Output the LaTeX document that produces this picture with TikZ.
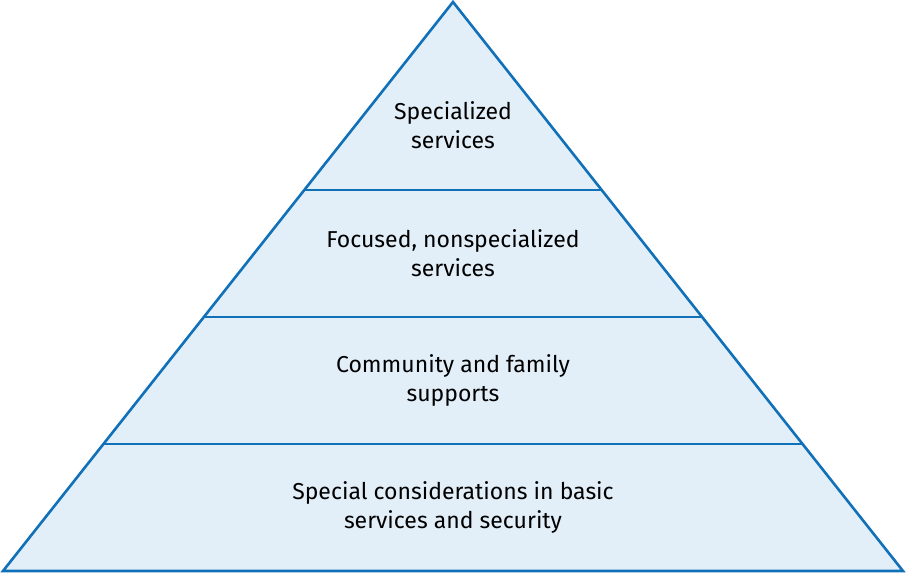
\documentclass[tikz,border=0pt]{standalone}
\usepackage{fontspec}
\setmainfont{Fira Sans}
\usepackage{tikz}
\usetikzlibrary{positioning}
\definecolor{pyrblue}{HTML}{1070B8}
\definecolor{pyrfill}{HTML}{E3EFF8}

\begin{document}
\begin{tikzpicture}[
	x=1pt, y=1pt,
	line width=2.6pt,
	font=\fontsize{23}{29}\selectfont
]
\tikzset{
    layertext/.style = {align=center, text=black, inner sep=0pt}
}
\useasboundingbox (0,0) rectangle (906,573);
% outline of the pyramid
\coordinate (apex) at (453,571);
\coordinate (bl) at (3,2);
\coordinate (br) at (903,2);
\filldraw[draw=pyrblue, fill=pyrfill] (bl) -- (apex) -- (br) -- cycle;
% dividing lines
\coordinate (l1a) at (304.3,383);
\coordinate (l1b) at (601.7,383);
\coordinate (l2a) at (203.9,256);
\coordinate (l2b) at (702.1,256);
\coordinate (l3a) at (103.4,129);
\coordinate (l3b) at (802.6,129);
\draw[pyrblue] (l1a) -- (l1b);
\draw[pyrblue] (l2a) -- (l2b);
\draw[pyrblue] (l3a) -- (l3b);
% labels
\node[layertext] (spec) at (453,448) {Specialized\\services};
\node[layertext] (focus) at (453,320) {Focused, nonspecialized\\services};
\node[layertext] (comm) at (453,193) {Community and family\\supports};
\node[layertext] (basic) at (453,66) {Special considerations in basic\\services and security};
\end{tikzpicture}
\end{document}
